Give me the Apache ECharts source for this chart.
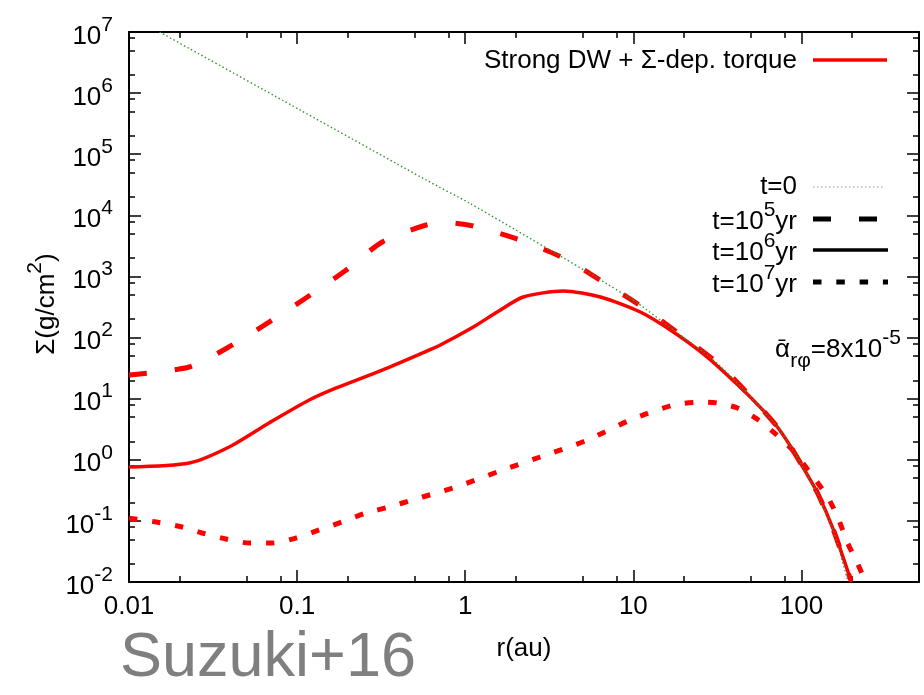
<!DOCTYPE html>
<html><head><meta charset="utf-8">
<script src="https://cdn.jsdelivr.net/npm/echarts@6/dist/echarts.min.js"></script>
<style>html,body{margin:0;padding:0;background:#fff}#c{width:924px;height:695px}</style>
</head><body><div id="c"></div>
<script>
// ---------------- data ----------------
const xMin = 0.01, xMax = 500;
const yMin = 0.01, yMax = 1e7;

const r_t0 = [0.0152, 0.104, 0.586, 1.057, 3.34, 6.11, 10.57, 17.3, 29.9, 41.6, 47.8, 58, 71.9, 85, 98.6, 124.5, 154.9, 188];
const sig_t0 = [1e7, 5.3e5, 3.78e4, 1.59e4, 2512, 942, 367, 133, 43, 18.0, 12.3, 6.8, 3.44, 1.75, 0.885, 0.275, 0.068, 0.0108];

const r_t5 = [0.01, 0.0228, 0.0383, 0.0681, 0.115, 0.196, 0.321, 0.586, 0.804, 1.117, 2.12, 3.83, 6.62, 11.5, 19.1, 31.6, 47.8, 58, 71.9, 85, 98.6, 124.5, 154.9, 196];
const sig_t5 = [24.4, 33, 67.5, 179, 461, 1274, 3656, 6950, 7500, 6680, 3945, 2004, 811, 305, 110, 38.4, 12.3, 6.8, 3.44, 1.75, 0.885, 0.286, 0.071, 0.0108];

const r_t6 = [0.01, 0.0228, 0.0394, 0.0681, 0.118, 0.171, 0.321, 0.555, 0.71, 1.117, 1.549, 2.213, 3.83, 6.37, 11.0, 17.3, 27.5, 41.6, 58, 71.9, 85, 98.6, 124.5, 154.9, 198];
const sig_t6 = [0.762, 0.885, 1.62, 4.0, 9.5, 15.0, 29.4, 55.8, 75.5, 149, 262, 461, 578, 461, 262, 123, 48, 17.0, 6.8, 3.44, 1.75, 0.885, 0.286, 0.071, 0.01];

const r_t7 = [0.01, 0.0145, 0.0207, 0.0272, 0.0378, 0.0518, 0.071, 0.0986, 0.135, 0.185, 0.258, 0.353, 0.484, 0.671, 0.92, 1.549, 2.79, 5.32, 9.6, 17.3, 26.1, 31.6, 41.6, 55.5, 68.1, 88.3, 113, 143, 164, 188, 215, 240];
const sig_t7 = [0.111, 0.096, 0.0794, 0.0634, 0.0505, 0.0435, 0.0435, 0.0525, 0.071, 0.096, 0.135, 0.169, 0.22, 0.286, 0.372, 0.631, 1.11, 2.10, 4.48, 7.87, 8.81, 8.49, 7.03, 4.48, 2.84, 1.45, 0.607, 0.246, 0.116, 0.0435, 0.0205, 0.01];

const xTickExps = [-2, -1, 0, 1, 2];
const xTickLabels = ['0.01', '0.1', '1', '10', '100'];
const yTickExps = [-2, -1, 0, 1, 2, 3, 4, 5, 6, 7];
const minorMantissas = [2, 5, 8];

const legendMain = 'Strong DW + Σ-dep. torque';
const xTitle = 'r(au)';
const watermark = 'Suzuki+16';

// ---------------- helpers ----------------
const F = '"Liberation Sans", Arial, Helvetica, sans-serif';
const zip = (a, b) => a.map((v, i) => [v, b[i]]);
const lxMin = Math.log10(xMin), lxMax = Math.log10(xMax);
const lyMin = Math.log10(yMin), lyMax = Math.log10(yMax);
function minorTicks(lo, hi) {
  const out = [];
  for (let e = Math.floor(lo); e <= Math.ceil(hi); e++) {
    minorMantissas.forEach(m => { const v = e + Math.log10(m); if (v > lo && v < hi) out.push(v); });
  }
  return out;
}
const xMinor = minorTicks(lxMin, lxMax);
const yMinor = minorTicks(lyMin, lyMax);

const tickStyle = {color: '#000', width: 1.5};
const richSup = {
  b: {fontSize: 26, fontFamily: F, color: '#000', padding: [9, 0, 0, 0]},
  s: {fontSize: 21, fontFamily: F, color: '#000', verticalAlign: 'top'}
};

function tickAxis(pos, isX, values, len, labels) {
  const ax = {
    type: 'value', position: pos,
    min: isX ? lxMin : lyMin, max: isX ? lxMax : lyMax,
    axisLine: {show: false, onZero: false},
    axisTick: {show: true, inside: true, length: len, customValues: values, lineStyle: tickStyle},
    axisLabel: {show: false},
    splitLine: {show: false}
  };
  if (labels) {
    ax.axisLabel = isX
      ? {show: true, customValues: values, margin: 12, fontSize: 26, fontFamily: F, color: '#000',
         formatter: v => xTickLabels[xTickExps.indexOf(Math.round(v))]}
      : {show: true, customValues: values, margin: 16,
         formatter: v => '{b|10}{s|' + Math.round(v) + '}', rich: richSup};
  }
  return ax;
}
const logAxis = (pos, isX) => ({
  type: 'log', logBase: 10, position: pos,
  min: isX ? xMin : yMin, max: isX ? xMax : yMax,
  axisLine: {show: true, onZero: false, lineStyle: {color: '#000', width: 2}},
  axisTick: {show: false}, axisLabel: {show: false}, splitLine: {show: false}, minorTick: {show: false}
});

const chart = echarts.init(document.getElementById('c'), null, {renderer: 'canvas'});

const red = '#ff0000';
const T = (text, x, y, extra) => Object.assign({type: 'text', x: x, y: y, z: 10,
  style: Object.assign({text: text, align: 'right', verticalAlign: 'middle', textAlign: 'right', textVerticalAlign: 'middle', fill: '#000', font: '26px ' + F}, extra || {})});

const option = {
  animation: false,
  backgroundColor: '#fff',
  grid: {left: 129, right: 5, top: 32, bottom: 113, containLabel: false},
  xAxis: [
    logAxis('bottom', true), logAxis('top', true),
    tickAxis('bottom', true, xTickExps, 12, true), tickAxis('bottom', true, xMinor, 6, false),
    tickAxis('top', true, xTickExps, 12, false), tickAxis('top', true, xMinor, 6, false)
  ],
  yAxis: [
    logAxis('left', false), logAxis('right', false),
    tickAxis('left', false, yTickExps, 12, true), tickAxis('left', false, yMinor, 6, false),
    tickAxis('right', false, yTickExps, 12, false), tickAxis('right', false, yMinor, 6, false)
  ],
  series: [
    {name: 't=1e5', type: 'line', xAxisIndex: 0, yAxisIndex: 0, data: zip(r_t5, sig_t5), symbol: 'none', z: 3,
     smooth: 0.25, lineStyle: {color: red, width: 5, type: [18, 28]}},
    {name: 't=1e6', type: 'line', xAxisIndex: 0, yAxisIndex: 0, data: zip(r_t6, sig_t6), symbol: 'none', z: 3,
     smooth: 0.25, lineStyle: {color: red, width: 3.5}},
    {name: 't=1e7', type: 'line', xAxisIndex: 0, yAxisIndex: 0, data: zip(r_t7, sig_t7), symbol: 'none', z: 3,
     smooth: 0.25, lineStyle: {color: red, width: 5, type: [8.5, 14.8]}},
    {name: 't=0', type: 'line', xAxisIndex: 0, yAxisIndex: 0, data: zip(r_t0, sig_t0), symbol: 'none', z: 4,
     smooth: 0.2, lineStyle: {color: '#2f962f', width: 1.4, type: [1.5, 2.5]}}
  ],
  graphic: [
    // main legend
    T(legendMain, 797, 61),
    {type: 'line', z: 10, shape: {x1: 813, y1: 60, x2: 887, y2: 60}, style: {stroke: red, lineWidth: 3.5}},
    // time legend
    T('t=0', 797, 187),
    {type: 'line', z: 10, shape: {x1: 813, y1: 187, x2: 885, y2: 187}, style: {stroke: '#999', lineWidth: 1, lineDash: [1.5, 2.5]}},
    T('{b|t=10}{s|5}{b|yr}', 797, 217, {rich: richSup}),
    {type: 'line', z: 10, shape: {x1: 813, y1: 219, x2: 885, y2: 219}, style: {stroke: '#000', lineWidth: 5, lineDash: [18, 28]}},
    T('{b|t=10}{s|6}{b|yr}', 797, 248, {rich: richSup}),
    {type: 'line', z: 10, shape: {x1: 813, y1: 250, x2: 888, y2: 250}, style: {stroke: '#000', lineWidth: 3.5}},
    T('{b|t=10}{s|7}{b|yr}', 797, 280, {rich: richSup}),
    {type: 'line', z: 10, shape: {x1: 813, y1: 282, x2: 888, y2: 282}, style: {stroke: '#000', lineWidth: 5, lineDash: [8.5, 14.8]}},
    // alpha label
    T('{b|ᾱ}{u|rφ}{b|=8x10}{s|-5}', 901, 350, {rich: {
        b: {fontSize: 26, fontFamily: F, color: '#000', padding: [9, 0, 9, 0]},
        s: {fontSize: 21, fontFamily: F, color: '#000', verticalAlign: 'top'},
        u: {fontSize: 21, fontFamily: F, color: '#000', verticalAlign: 'bottom'}
      }}),
    // axis titles
    {type: 'text', x: 42, y: 304, rotation: Math.PI / 2, z: 10, style: {text: '{b|Σ(g/cm}{s|2}{b|)}', rich: richSup, align: 'center', verticalAlign: 'middle', textAlign: 'center', textVerticalAlign: 'middle'}},
    T(xTitle, 524, 649, {align: 'center', textAlign: 'center'}),
    // watermark
    T(watermark, 120, 659, {font: '63px ' + F, fill: '#7f7f7f', align: 'left', textAlign: 'left'})
  ]
};
chart.setOption(option);
</script>
</body></html>
